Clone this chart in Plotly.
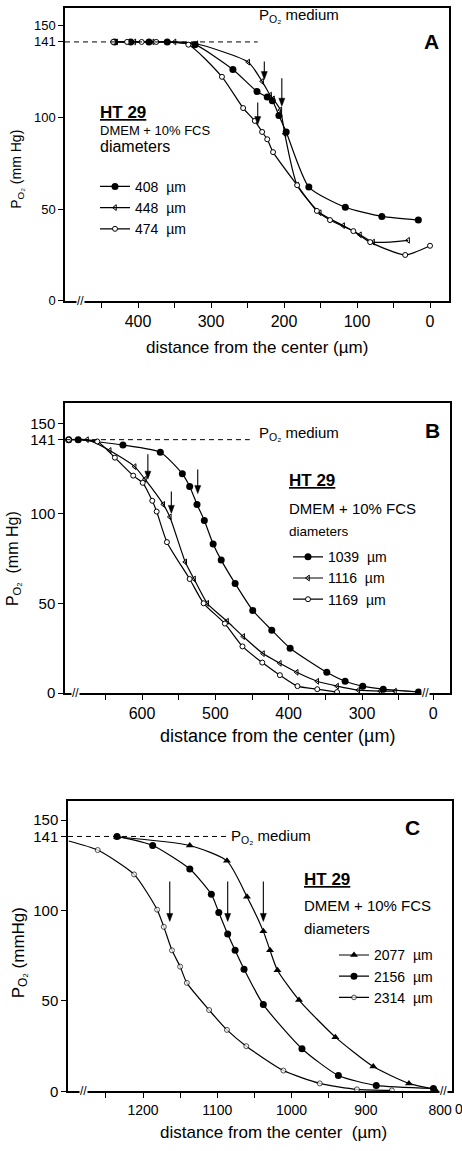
import plotly.graph_objects as go

W, H = 462, 1151
FONT = "Liberation Sans"

# ---------------- data ----------------
# Panel A (HT 29, DMEM + 10% FCS)
a408_d = [432, 410, 385, 360, 322, 270, 237, 223, 216, 207, 197, 166, 116, 66, 16]
a408_p = [141, 141, 141, 141, 139.5, 126, 114, 111, 109, 101, 92, 62, 51, 46, 44]
a448_d = [430, 405, 380, 350, 320, 249, 230, 219, 215, 205, 199, 182, 151, 119, 96, 78, 30]
a448_p = [141, 141, 141, 141, 140, 130, 119.5, 112, 110, 104, 91, 63, 48, 41, 36, 32, 33]
a474_d = [434, 415, 395, 375, 331, 285, 256, 240, 230, 223, 215, 182, 155, 137, 105, 82, 34, 0]
a474_p = [141, 141, 141, 141, 139.5, 122, 105, 98, 92, 88, 81, 63, 49, 44, 38, 32, 25, 30]

# Panel B
b1039_d = [700, 687, 626, 575, 545, 535, 525, 515, 503, 492, 473, 449, 423, 398, 348, 323, 299, 271, 223]
b1039_p = [141, 141, 138, 134, 122, 115, 105, 96, 83, 74, 61, 46, 35, 25, 11.6, 6.6, 3.9, 2.2, 0.6]
b1116_d = [700, 675, 644, 610, 596, 571, 562, 541, 529, 511, 484, 462, 435, 412, 389, 361, 334, 305, 275, 255]
b1116_p = [141, 141, 135, 126, 119, 105, 98, 73, 63.5, 50, 40, 31.5, 22, 16.6, 11.6, 6.6, 3.9, 1.7, 1.1, 1.1]
b1169_d = [700, 661, 637, 612, 599, 586, 580, 566, 535, 516, 487, 463, 436, 412, 388, 361, 334]
b1169_p = [141, 140, 131, 121, 117, 107, 101, 84, 63.5, 50, 38.7, 26, 17, 10, 3.9, 2.2, 0.6]

# Panel C
c2077_d = [1235, 1137, 1087, 1060, 1038, 1029, 1019, 990, 941, 890, 842, 807]
c2077_p = [140.7, 136, 127.5, 107.7, 88.5, 78, 67, 50.5, 30, 13.7, 4.4, 1.1]
c2156_d = [1235, 1187, 1137, 1108, 1098, 1086, 1076, 1064, 1038, 986, 937, 886, 809]
c2156_p = [141, 136, 123, 109, 99, 87, 78, 67.6, 48, 23.6, 8.8, 3.3, 1.6]
c2314_d = [1300, 1261, 1212, 1181, 1172, 1161, 1150, 1141, 1111, 1087, 1061, 1011, 962, 912, 865]
c2314_p = [138.5, 133.5, 120, 100.5, 91, 78, 69, 60, 45, 34, 25, 11.5, 4.4, 1.1, 0.5]

# arrows (distance, PO2 at tip, shaft length px)
a_arrows = [(227, 120.5, 18), (203, 106, 28), (236, 96, 22)]
b_arrows = [(592, 119, 25), (560, 100, 22), (524, 111, 24)]
c_arrows = [(1164, 94, 40), (1086, 94, 40), (1038, 94, 40)]

y_ticks = [0, 50, 100, 141, 150]
y_ticktext = ["0", "50", "100", "141", "150"]
a_xticks = [400, 300, 200, 100, 0]
a_xtext = ["400", "300", "200", "100", "0"]
a_xminor = [450, 350, 250, 150, 50]
b_xticks = [600, 500, 400, 300, 203]
b_xtext = ["600", "500", "400", "300", "0"]
b_xminor = [650, 550, 450, 350, 250]
c_xticks = [1200, 1100, 1000, 900, 800]
c_xtext = ["1200", "1100", "1000", "900", "800"]
c_xminor = [1250, 1150, 1050, 950, 850]

MEDIUM = 141


def px(x):
    return x / W


def py(y):
    return 1 - y / H


fig = go.Figure()

filled = dict(symbol="circle", size=7, color="black")
opencirc = dict(symbol="circle", size=5, color="white", line=dict(color="black", width=1))
tick = dict(symbol="triangle-left-open", size=5, color="black", line=dict(color="black", width=1))
tri = dict(symbol="triangle-up", size=7, color="black")
LINE = dict(color="black", width=1.2, shape="spline", smoothing=0.6)

SP = "\u00a0\u00a0"


def add(d, p, name, marker, xa, ya, leg):
    fig.add_trace(go.Scatter(x=d, y=p, mode="lines+markers", name=name, marker=marker,
                             line=LINE, xaxis=xa, yaxis=ya, legend=leg, cliponaxis=True))


add(a408_d, a408_p, "408" + SP + "µm", filled, "x", "y", "legend")
add(a448_d, a448_p, "448" + SP + "µm", tick, "x", "y", "legend")
add(a474_d, a474_p, "474" + SP + "µm", opencirc, "x", "y", "legend")
add(b1039_d, b1039_p, "1039" + SP + "µm", filled, "x2", "y2", "legend2")
add(b1116_d, b1116_p, "1116" + SP + "µm", tick, "x2", "y2", "legend2")
add(b1169_d, b1169_p, "1169" + SP + "µm", opencirc, "x2", "y2", "legend2")
m2314 = dict(opencirc)
m2314["size"] = [0] + [5] * (len(c2314_d) - 1)
add(c2077_d, c2077_p, "2077" + SP + "µm", tri, "x3", "y3", "legend3")
add(c2156_d, c2156_p, "2156" + SP + "µm", filled, "x3", "y3", "legend3")
add(c2314_d, c2314_p, "2314" + SP + "µm", m2314, "x3", "y3", "legend3")

axis_common = dict(showline=True, mirror=True, linecolor="black", linewidth=1.5,
                   ticks="outside", ticklen=5, tickwidth=1.2, tickcolor="black",
                   showgrid=False, zeroline=False)

panels = [
    ("xaxis", "yaxis", (65, 449), (8, 303), [500, -26], [0, 159.5], a_xticks, a_xtext, a_xminor, "y", "x", 16, 13),
    ("xaxis2", "yaxis2", (65, 450), (406, 698), [705, 180], [0, 161.3], b_xticks, b_xtext, b_xminor, "y2", "x2", 16, 15),
    ("xaxis3", "yaxis3", (68, 452), (807, 1099), [1301, 784], [0, 160.4], c_xticks, c_xtext, c_xminor, "y3", "x3", 14, 15),
]
for xk, yk, (x0, x1), (yt, yb), xr, yr, xt, xtt, xm, yanc, xanc, xfs, yfs in panels:
    fig.layout[xk] = dict(axis_common, domain=[px(x0), px(x1)], range=xr, anchor=yanc,
                          tickmode="array", tickvals=xt, ticktext=xtt,
                          minor=dict(tickmode="array", tickvals=xm, ticks="outside", ticklen=5,
                                     tickwidth=1.2, tickcolor="black", showgrid=False),
                          tickfont=dict(family=FONT, size=xfs, color="black"))
    fig.layout[yk] = dict(axis_common, domain=[py(yb), py(yt)], range=yr, anchor=xanc,
                          tickmode="array", tickvals=y_ticks, ticktext=y_ticktext,
                          tickfont=dict(family=FONT, size=yfs, color="black"))

shapes = []
ann = []

# dashed medium lines
for xr0, xend, xref, yref in [(500, 236, "x", "y"), (705, 453, "x2", "y2"), (1301, 1083, "x3", "y3")]:
    shapes.append(dict(type="line", xref=xref, yref=yref, x0=xr0, x1=xend, y0=MEDIUM, y1=MEDIUM,
                       line=dict(color="black", width=1, dash="5px,4px")))

# arrows drawn as shapes (shaft + head) anchored at data tip
for arr, xref, yref in [(a_arrows, "x", "y"), (b_arrows, "x2", "y2"), (c_arrows, "x3", "y3")]:
    for d, p, L in arr:
        shapes.append(dict(type="line", xref=xref, yref=yref, x0=d, x1=d,
                           ysizemode="pixel", yanchor=p, y0=2, y1=L,
                           line=dict(color="black", width=1.1)))
        shapes.append(dict(type="path", xref=xref, yref=yref,
                           xsizemode="pixel", ysizemode="pixel", xanchor=d, yanchor=p,
                           path="M -3,8 L 0,0 L 3,8 Z", fillcolor="black",
                           line=dict(color="black", width=0.5)))


def text(x, y, s, size=14, anchor="left", angle=0, bg=None):
    a = dict(x=px(x), y=py(y), xref="paper", yref="paper", text=s, showarrow=False,
             xanchor=anchor, yanchor="middle", textangle=angle,
             font=dict(family=FONT, size=size, color="black"))
    if bg:
        a["bgcolor"] = bg
        a["borderpad"] = 0
    ann.append(a)


medium = "P<sub>O₂</sub> medium"
text(257, 16, medium, 15)
text(257, 437, medium, 15)
text(229, 842, medium, 15)

text(441, 42, "<b>A</b>", 21, anchor="right")
text(442, 434, "<b>B</b>", 21, anchor="right")
text(422, 833, "<b>C</b>", 21, anchor="right")

text(98, 113, "<b><u>HT 29</u></b>", 17)
text(98, 131, "DMEM + 10% FCS", 13)
text(98, 148, "diameters", 16)
text(287, 484, "<b><u>HT 29</u></b>", 17)
text(287, 512, "DMEM + 10% FCS", 15)
text(287, 535, "diameters", 13.5)
text(302, 886, "<b><u>HT 29</u></b>", 17)
text(302, 912, "DMEM + 10% FCS", 15)
text(302, 935, "diameters", 15)

ytitle = "P<sub>O₂</sub> (mm Hg)"
text(17, 171, ytitle, 14, anchor="center", angle=-90)
text(13, 563, "P<sub>O₂</sub>" + SP + "(mm Hg)", 16, anchor="center", angle=-90)
text(20, 960, "P<sub>O₂</sub> (mmHg)", 17, anchor="center", angle=-90)

text(257, 350, "distance from the center (µm)", 17, anchor="center")
text(277, 741, "distance from the center (µm)", 18, anchor="center")
text(273, 1140, "distance from the center" + SP + "(µm)", 17, anchor="center")

# axis breaks
text(80, 303, "//", 12, anchor="center", bg="white")
text(75, 698, "//", 12, anchor="center", bg="white")
text(425, 698, "//", 12, anchor="center", bg="white")
text(83, 1099, "//", 12, anchor="center", bg="white")
text(443, 1099, "//", 12, anchor="center", bg="white")
text(459, 1117, "0", 14, anchor="center")

legfont = dict(family=FONT, size=14, color="black")
leg = dict(font=legfont, bgcolor="rgba(0,0,0,0)", borderwidth=0, itemwidth=30,
           tracegroupgap=0, xanchor="left", yanchor="top", itemclick=False)

fig.update_layout(
    width=W, height=H, margin=dict(l=0, r=0, t=0, b=0),
    paper_bgcolor="white", plot_bgcolor="white",
    showlegend=True,
    legend=dict(leg, x=px(95), y=py(172)),
    legend2=dict(leg, x=px(288), y=py(545)),
    legend3=dict(leg, x=px(334), y=py(946)),
    shapes=shapes, annotations=ann,
)

fig.write_html("out.html")
